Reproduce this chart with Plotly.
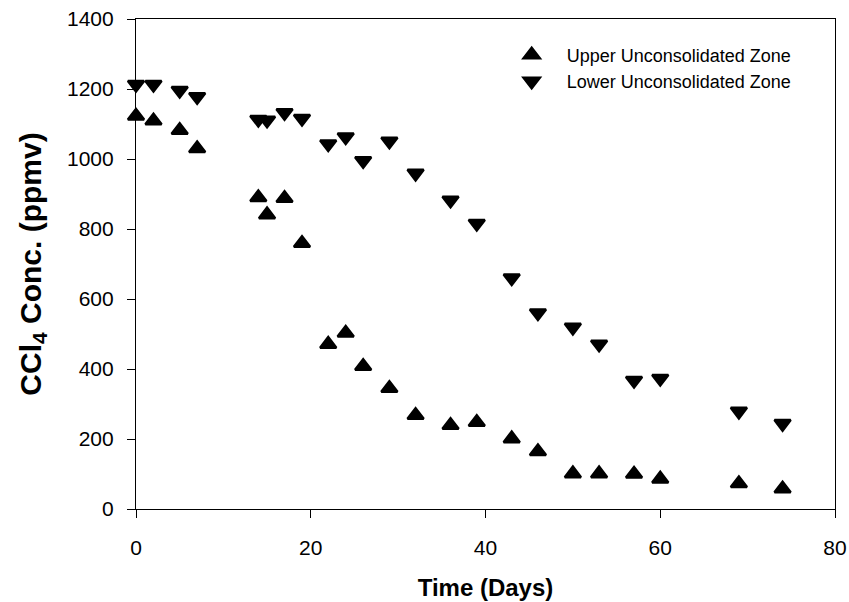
import plotly.graph_objects as go

days = [0, 2, 5, 7, 14, 15, 17, 19, 22, 24, 26, 29, 32, 36, 39, 43, 46, 50, 53, 57, 60, 69, 74]
upper_zone = [1123, 1109, 1082, 1030, 890, 841, 888, 759, 471, 503, 408, 345, 268, 239, 248,
              201, 164, 101, 101, 100, 86, 73, 58]
lower_zone = [1213, 1213, 1196, 1178, 1113, 1111, 1132, 1116, 1043, 1063, 995, 1051, 959, 882,
              816, 660, 560, 519, 471, 367, 373, 279, 244]

FONT = "Liberation Sans, Arial, sans-serif"

fig = go.Figure()
fig.add_trace(go.Scatter(
    x=days, y=upper_zone, mode="markers", name="Upper Unconsolidated Zone",
    marker=dict(symbol="triangle-up", size=14, color="black",
                line=dict(color="black", width=2.5)),
    cliponaxis=False,
))
fig.add_trace(go.Scatter(
    x=days, y=lower_zone, mode="markers", name="Lower Unconsolidated Zone",
    marker=dict(symbol="triangle-down", size=14, color="black",
                line=dict(color="black", width=2.5)),
    cliponaxis=False,
))

axis_common = dict(
    showline=True, mirror=True, linecolor="black", linewidth=1.2,
    ticks="outside", ticklen=8, tickwidth=1.2, tickcolor="black",
    showgrid=False, zeroline=False,
    tickfont=dict(family=FONT, size=21, color="black"),
)

fig.update_layout(
    width=849, height=602, autosize=False,
    margin=dict(l=136, r=14, t=19, b=93),
    paper_bgcolor="white", plot_bgcolor="white",
    font=dict(family=FONT, color="black"),
    showlegend=True,
    legend=dict(
        x=0.516, y=0.964, xanchor="left", yanchor="top",
        font=dict(family=FONT, size=18, color="black"),
        bgcolor="rgba(0,0,0,0)", itemwidth=60,
    ),
    xaxis=dict(
        range=[0, 80], dtick=20, tick0=0,
        title=dict(text="<b>Time (Days)</b>", font=dict(family=FONT, size=24, color="black"), standoff=20),
        ticklabelstandoff=12,
        automargin=False,
        **axis_common,
    ),
    yaxis=dict(
        range=[0, 1400], dtick=200, tick0=0,
        title=dict(text="<b>CCl<sub>4</sub> Conc. (ppmv)</b>", font=dict(family=FONT, size=30, color="black"), standoff=16),
        ticklabelstandoff=9,
        automargin=False,
        **axis_common,
    ),
)

fig.write_html("out.html")
